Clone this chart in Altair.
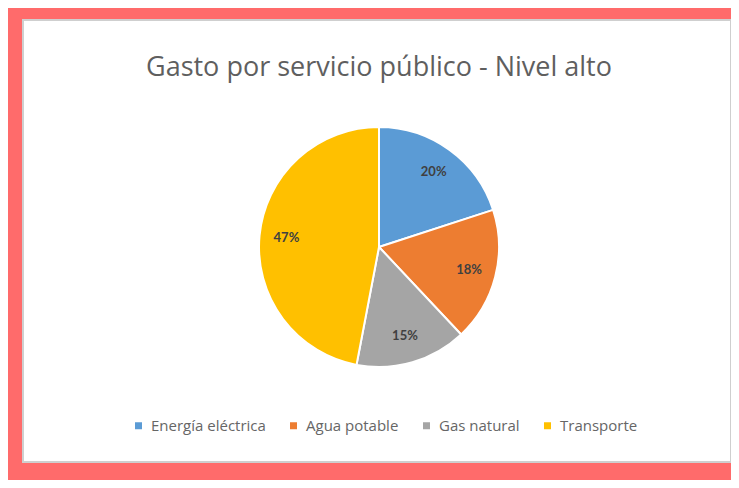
import altair as alt
import pandas as pd

categorias = ["Energía eléctrica", "Agua potable", "Gas natural", "Transporte"]
porcentajes = [20, 18, 15, 47]
colores = ["#5B9BD5", "#ED7D31", "#A5A5A5", "#FFC000"]
titulo = "Gasto por servicio público - Nivel alto"

df = pd.DataFrame({
    "categoria": categorias,
    "valor": porcentajes,
    "orden": list(range(len(categorias))),
    "etiqueta": [f"{v}%" for v in porcentajes],
})

CX, CY = 356, 227

base = alt.Chart(df).encode(
    theta=alt.Theta("valor:Q", stack=True),
    order=alt.Order("orden:Q"),
)

pie = base.mark_arc(outerRadius=120, stroke="white", strokeWidth=2).encode(
    x=alt.value(CX),
    y=alt.value(CY),
    color=alt.Color(
        "categoria:N",
        scale=alt.Scale(domain=categorias, range=colores),
        sort=categorias,
        legend=alt.Legend(
            title=None,
            orient="none",
            legendX=108,
            legendY=398,
            direction="horizontal",
            symbolType="square",
            symbolSize=49,
            symbolStrokeWidth=0,
            labelFont="Open Sans",
            labelFontSize=15,
            labelColor="#666666",
            columnPadding=20,
            labelOffset=5,
            padding=0,
        ),
    ),
)

labels = base.mark_text(
    radius=93, font="Lato", fontSize=13, fontWeight="bold", color="#404040"
).encode(
    x=alt.value(CX),
    y=alt.value(CY),
    text="etiqueta:N",
)

title_layer = alt.Chart(pd.DataFrame({"t": [titulo]})).mark_text(
    font="Open Sans", fontSize=27, color="#5f5f5f"
).encode(
    text="t:N",
    x=alt.value(CX),
    y=alt.value(48),
)

chart = alt.layer(pie, labels, title_layer).properties(
    width=708,
    height=442,
    padding={"left": 15, "top": 12, "right": 0, "bottom": 18},
    background="#FF6B6B",
).configure_view(fill="white", stroke="#cfcfcf", strokeWidth=2)

chart.save("out.html", embed_options={"renderer": "svg", "actions": False})
